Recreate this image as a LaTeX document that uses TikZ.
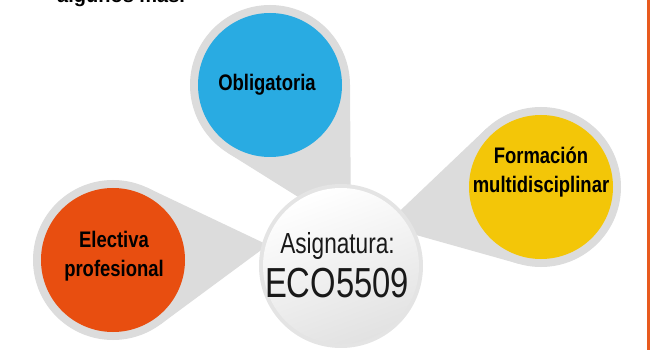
\documentclass[tikz,border=0pt]{standalone}
\usepackage{fontspec}
\setmainfont{Liberation Sans}
\newfontfamily\condfont[FakeStretch=0.82]{Liberation Sans}
\newfontfamily\thinfont[FakeStretch=0.78]{Liberation Sans}
\usetikzlibrary{calc}
\definecolor{ringgray}{HTML}{DCDCDC}
\definecolor{oblblue}{HTML}{29ABE2}
\definecolor{eleorange}{HTML}{E84E10}
\definecolor{formyellow}{HTML}{F3C608}
\definecolor{edgeorange}{HTML}{E85A1E}
\definecolor{asigring}{HTML}{E4E4E4}
\definecolor{asigshade}{HTML}{E2E2E2}

\begin{document}
\begin{tikzpicture}[x=1pt,y=-1pt]
    \tikzstyle{ring}=[circle, fill=ringgray, inner sep=0pt, outer sep=0pt, minimum size=160pt]
    \tikzstyle{bubble}=[circle, inner sep=0pt, outer sep=0pt, minimum size=144pt]
    \tikzstyle{tag}=[align=center, font=\condfont\bfseries\fontsize{22.5}{29}\selectfont]

    \useasboundingbox (0,0) rectangle (651,350);
    \clip (0,0) rectangle (651,350);

    \node[anchor=base west, font=\bfseries\fontsize{20}{24}\selectfont, inner sep=0pt] (intro) at (57,3) {algunos más.};
    \draw[edgeorange, line width=2.5pt] (648.5,0) -- (648.5,350);

    % grey drops
    \node[ring] (rob) at (270,85) {};
    \node[ring] (rfm) at (541,187) {};
    \node[ring] (rel) at (113,260) {};
    \coordinate (tob) at (351,230);
    \coordinate (tfm) at (384,226);
    \coordinate (tel) at (268,245);
    \foreach \r/\t in {rob/tob, rfm/tfm, rel/tel}
        \fill[ringgray] (\t) -- (tangent cs:node=\r, point={(\t)}, solution=1) -- (\r.center)
            -- (tangent cs:node=\r, point={(\t)}, solution=2) -- cycle;

    \node[bubble, fill=oblblue] (ob) at (270,85) {};
    \node[bubble, fill=formyellow] (fm) at (541,187) {};
    \node[bubble, fill=eleorange] (el) at (113,260) {};
    \node[tag] at (267,85) {Obligatoria};
    \node[tag] at (541,172) {Formación\\multidisciplinar};
    \node[tag] at (114,256) {Electiva\\profesional};

    % center
    \node[circle, fill=asigring, inner sep=0pt, minimum size=164pt] (asig) at (341,266) {};
    \shade[top color=white, bottom color=asigshade, shading angle=20] (asig.center) circle (78);
    \node[anchor=base, font=\thinfont\fontsize{29}{32}\selectfont, text=black!90] at (337.5,253) {Asignatura:};
    \node[anchor=base, font=\thinfont\fontsize{42}{44}\selectfont, text=black!90] at (337,297) {ECO5509};
\end{tikzpicture}
\end{document}
